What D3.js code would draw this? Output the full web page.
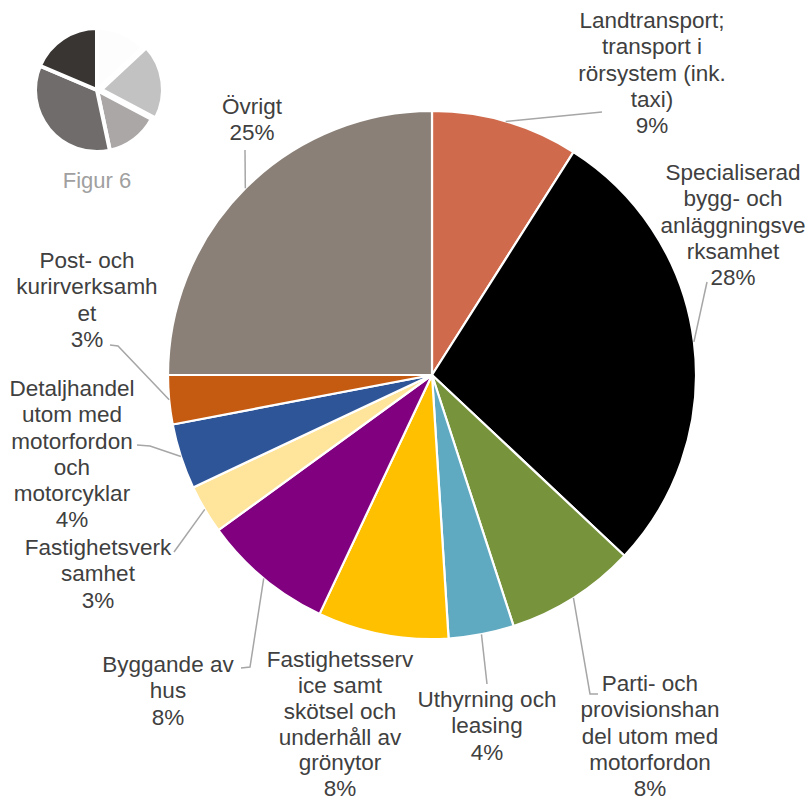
<!DOCTYPE html>
<html>
<head>
<meta charset="utf-8">
<script src="https://cdn.jsdelivr.net/npm/d3@7/dist/d3.min.js"></script>
<style>
  html, body { margin: 0; padding: 0; background: #ffffff; }
  svg { display: block; }
  text { font-family: "Liberation Sans", Arial, sans-serif; }
</style>
</head>
<body>
<svg id="chart" width="810" height="802"></svg>
<script>
// Branch categories (clockwise from 12 o'clock) and their shares in percent
const categories = [
  "Landtransport; transport i rörsystem (ink. taxi)",
  "Specialiserad bygg- och anläggningsverksamhet",
  "Parti- och provisionshandel utom med motorfordon",
  "Uthyrning och leasing",
  "Fastighetsservice samt skötsel och underhåll av grönytor",
  "Byggande av hus",
  "Fastighetsverksamhet",
  "Detaljhandel utom med motorfordon och motorcyklar",
  "Post- och kurirverksamhet",
  "Övrigt"
];
const shares = [9, 28, 8, 4, 8, 8, 3, 4, 3, 25];

// Wrapped label text, line by line
const labelLines = [
  ["Landtransport;", "transport i", "rörsystem (ink.", "taxi)"],
  ["Specialiserad", "bygg- och", "anläggningsve", "rksamhet"],
  ["Parti- och", "provisionshan", "del utom med", "motorfordon"],
  ["Uthyrning och", "leasing"],
  ["Fastighetsserv", "ice samt", "skötsel och", "underhåll av", "grönytor"],
  ["Byggande av", "hus"],
  ["Fastighetsverk", "samhet"],
  ["Detaljhandel", "utom med", "motorfordon", "och", "motorcyklar"],
  ["Post- och", "kurirverksamh", "et"],
  ["Övrigt"]
];

// Small figure badge shares
const badgeShares = [47, 71, 50, 125, 67];
const badgeTitle = "Figur 6";

// Styling
const sliceColors = ["#CF6B4C", "#000000", "#77933C", "#5FA9C1", "#FFC000",
                     "#800080", "#FFE49C", "#2E5597", "#C55A11", "#8A8078"];
const badgeColors = ["#FDFDFD", "#C2C2C2", "#ABA7A6", "#6F6C6B", "#393533"];
const badgeOffsets = [0, 4, 0, 0, 0];

// Label placement: text centre x, centre y of first line, line spacing, leader bends
const labelLayout = [
  { x: 652, y: 20,  lh: 26.2, leader: [[602, 112]] },
  { x: 733, y: 172, lh: 26.2, leader: [[707, 282]] },
  { x: 650, y: 683, lh: 26.2, leader: [[590, 694], [598, 694]] },
  { x: 487, y: 699, lh: 26.2, leader: [[487, 684]] },
  { x: 340, y: 659, lh: 25.8, leader: null },
  { x: 168, y: 664, lh: 26.2, leader: [[250, 667], [241, 668]] },
  { x: 98,  y: 547, lh: 26.2, leader: [[174, 552]] },
  { x: 72,  y: 388, lh: 26.2, leader: [[150, 446], [137, 445]] },
  { x: 87,  y: 260, lh: 26.2, leader: [[118, 346], [110, 345]] },
  { x: 252, y: 106, lh: 26.2, leader: [[245, 150]] }
];

const width = 810, height = 802;
const cx = 432, cy = 375, radius = 264;
const fontSize = 22.5;

const svg = d3.select("#chart");

// ---- main pie ----
const pie = d3.pie().sort(null).value(d => d);
const arcs = pie(shares);
const arc = d3.arc().innerRadius(0).outerRadius(radius);

const main = svg.append("g").attr("transform", `translate(${cx},${cy})`);
main.selectAll("path.slice")
  .data(arcs)
  .join("path")
  .attr("class", "slice")
  .attr("d", arc)
  .attr("fill", (d, i) => sliceColors[i])
  .attr("stroke", "#ffffff")
  .attr("stroke-width", 2.2)
  .attr("stroke-linejoin", "round");

// ---- leader lines ----
function edgePoint(d) {
  const a = (d.startAngle + d.endAngle) / 2;
  return [cx + Math.sin(a) * radius, cy - Math.cos(a) * radius];
}
const line = d3.line();
svg.append("g")
  .selectAll("path")
  .data(arcs.filter((d, i) => labelLayout[i].leader))
  .join("path")
  .attr("d", d => line([edgePoint(d)].concat(labelLayout[d.index].leader)))
  .attr("fill", "none")
  .attr("stroke", "#A6A6A6")
  .attr("stroke-width", 1.5);

// ---- data labels ----
const labels = svg.append("g")
  .attr("fill", "#404040")
  .attr("font-size", fontSize)
  .attr("text-anchor", "middle");

arcs.forEach((d, i) => {
  const pos = labelLayout[i];
  const lines = labelLines[i].concat([Math.round(d.value) + "%"]);
  const t = labels.append("text");
  lines.forEach((s, k) => {
    t.append("tspan")
      .attr("x", pos.x)
      .attr("y", pos.y + k * pos.lh + fontSize * 0.36)
      .text(s);
  });
});

// ---- figure badge ----
const bx = 97, by = 90, br = 62;
const badgePie = d3.pie().sort(null).value(d => d);
const badgeArc = d3.arc().innerRadius(0).outerRadius(br);
const badge = svg.append("g").attr("transform", `translate(${bx},${by})`);
badge.selectAll("path")
  .data(badgePie(badgeShares))
  .join("path")
  .attr("transform", (d, i) => {
    const a = (d.startAngle + d.endAngle) / 2;
    return `translate(${Math.sin(a) * badgeOffsets[i]},${-Math.cos(a) * badgeOffsets[i]})`;
  })
  .attr("d", badgeArc)
  .attr("fill", (d, i) => badgeColors[i])
  .attr("stroke", "#ffffff")
  .attr("stroke-width", 4);

svg.append("text")
  .attr("x", bx)
  .attr("y", 188)
  .attr("text-anchor", "middle")
  .attr("font-size", 22)
  .attr("fill", "#A0A0A0")
  .text(badgeTitle);
</script>
</body>
</html>
